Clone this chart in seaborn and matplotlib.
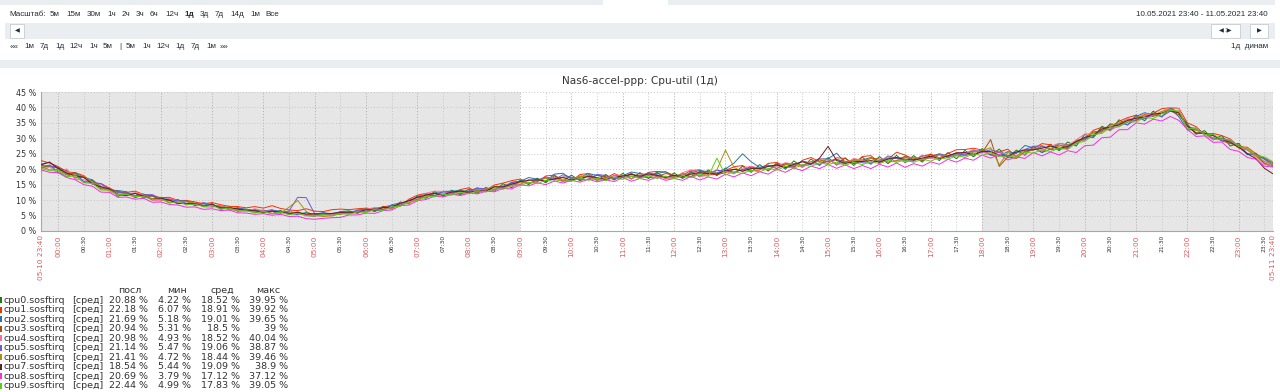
import numpy as np
import pandas as pd
import matplotlib
matplotlib.use('Agg')
import matplotlib.pyplot as plt
from matplotlib.patches import Rectangle
import seaborn as sns

# ---- данные (шаг 10 минут, от 05-10 23:40 до 05-11 23:40) ----
step_min = 10
series_names = ['cpu0.sosftirq', 'cpu1.sosftirq', 'cpu2.sosftirq', 'cpu3.sosftirq', 'cpu4.sosftirq',
                'cpu5.sosftirq', 'cpu6.sosftirq', 'cpu7.sosftirq', 'cpu8.sosftirq', 'cpu9.sosftirq']
series_colors = ['#1A7C11', '#F63100', '#2774A4', '#A54F10', '#FC6EA3',
                 '#6C59DC', '#AC8C14', '#611F27', '#F230E0', '#5CCD18']

cpu0 = [21.6, 22.3, 20.1, 18.2, 18.9, 15.7, 16.4, 13.6, 13.9, 11.2, 12.6, 10.8,
        12.0, 10.0, 10.9, 9.1, 10.2, 8.5, 9.3, 7.9, 8.9, 7.0, 7.9, 6.4,
        7.1, 5.9, 6.8, 5.6, 6.6, 5.3, 6.2, 5.0, 4.8, 5.9, 4.9, 6.3,
        6.5, 5.7, 7.2, 6.3, 8.0, 7.1, 9.4, 8.8, 11.3, 10.6, 12.8, 11.2,
        13.2, 11.7, 13.6, 12.2, 14.1, 12.9, 15.3, 14.0, 16.4, 15.0, 17.1, 15.6,
        17.9, 16.0, 18.1, 16.2, 18.2, 16.3, 18.3, 16.5, 18.7, 16.8, 18.9, 17.0,
        19.1, 16.9, 18.8, 17.0, 19.3, 17.5, 19.8, 17.9, 20.4, 18.5, 21.0, 19.0,
        21.5, 19.4, 22.1, 20.0, 22.7, 20.6, 23.3, 21.2, 23.8, 21.3, 23.7, 21.2,
        23.9, 21.6, 24.1, 21.8, 24.5, 22.1, 24.4, 22.3, 24.9, 22.8, 25.4, 23.4,
        26.1, 24.0, 26.7, 24.6, 26.5, 23.7, 26.2, 24.5, 27.5, 25.4, 28.1, 26.0,
        28.8, 27.5, 31.3, 30.2, 33.9, 32.5, 36.0, 34.3, 37.5, 35.7, 38.8, 36.9,
        39.9, 38.2, 34.6, 31.3, 32.5, 29.5, 30.9, 27.5, 28.4, 24.7, 25.2, 21.7,
        20.9]
cpu1 = [22.8, 22.0, 20.9, 19.1, 18.9, 17.9, 15.6, 15.4, 13.9, 12.6, 12.5, 12.9,
        11.8, 11.5, 10.8, 10.9, 9.9, 9.9, 9.4, 8.8, 9.2, 8.5, 8.0, 7.9,
        7.5, 7.9, 7.4, 8.2, 7.3, 6.8, 6.6, 7.2, 6.4, 6.3, 6.9, 7.1,
        6.9, 7.2, 7.4, 7.1, 7.8, 8.3, 8.2, 10.3, 11.6, 12.2, 11.1, 12.9,
        12.3, 13.4, 14.0, 12.6, 13.2, 14.9, 15.5, 16.3, 16.8, 15.6, 15.9, 17.8,
        18.1, 16.4, 16.2, 18.3, 18.6, 16.9, 17.1, 18.6, 17.3, 18.7, 17.0, 19.0,
        19.3, 19.1, 17.6, 18.1, 19.6, 19.8, 18.2, 18.3, 19.6, 20.8, 21.2, 19.6,
        19.7, 21.9, 22.2, 20.9, 20.6, 22.9, 23.8, 22.4, 21.9, 23.7, 23.5, 21.8,
        24.1, 24.4, 22.1, 23.3, 25.5, 24.6, 23.1, 24.2, 24.9, 23.7, 25.1, 26.3,
        26.4, 26.8, 26.2, 24.7, 25.6, 26.5, 24.1, 25.4, 26.7, 28.3, 27.9, 26.6,
        26.7, 29.4, 29.8, 32.6, 33.6, 33.4, 35.5, 36.7, 37.5, 36.4, 38.1, 39.6,
        39.9, 39.7, 35.0, 33.8, 31.2, 31.6, 30.9, 29.8, 27.3, 27.1, 25.0, 23.6,
        22.2]
cpu2 = [20.2, 21.4, 19.1, 17.6, 18.9, 17.3, 16.6, 14.4, 13.2, 13.1, 12.7, 11.0,
        11.8, 11.3, 10.3, 10.4, 9.8, 9.7, 8.2, 8.9, 8.0, 8.0, 6.8, 7.5,
        6.9, 6.9, 5.8, 6.6, 6.5, 5.8, 5.3, 6.0, 5.2, 5.8, 5.2, 5.9,
        5.6, 6.8, 7.1, 6.5, 6.9, 8.5, 9.1, 9.2, 11.2, 11.9, 11.5, 12.8,
        12.9, 13.1, 12.8, 14.0, 13.1, 14.4, 13.8, 15.8, 16.1, 17.3, 16.8, 16.1,
        18.4, 18.7, 16.8, 17.4, 18.6, 18.0, 17.3, 16.8, 17.9, 19.1, 18.6, 18.0,
        18.6, 19.2, 17.9, 17.3, 18.9, 19.6, 19.2, 18.8, 20.1, 22.0, 25.0, 22.4,
        20.6, 21.4, 20.2, 21.9, 21.7, 21.2, 21.6, 23.3, 23.4, 25.2, 22.0, 23.1,
        23.0, 23.8, 22.2, 24.3, 23.6, 22.7, 22.6, 24.4, 24.2, 25.0, 24.3, 25.2,
        25.2, 26.0, 25.9, 24.6, 24.2, 25.7, 25.1, 27.7, 26.9, 25.4, 26.5, 28.4,
        27.9, 28.2, 30.3, 30.9, 32.2, 34.7, 34.0, 35.2, 37.1, 38.3, 37.6, 38.1,
        39.6, 37.0, 32.7, 32.9, 31.6, 29.8, 30.1, 29.3, 27.6, 24.8, 24.6, 23.4,
        21.7]
cpu3 = [20.6, 20.9, 20.4, 19.6, 17.2, 17.4, 15.6, 13.8, 13.2, 12.9, 12.1, 12.2,
        10.7, 11.4, 10.0, 9.9, 8.8, 9.8, 8.9, 8.3, 8.2, 8.1, 7.5, 7.0,
        6.6, 7.0, 6.0, 6.6, 5.8, 6.3, 5.7, 5.3, 5.4, 5.8, 5.5, 5.4,
        6.2, 6.3, 6.2, 7.4, 7.6, 7.5, 8.9, 9.8, 10.2, 11.8, 12.3, 11.6,
        12.0, 13.0, 12.7, 13.5, 13.6, 13.3, 14.4, 15.4, 15.1, 16.6, 16.1, 17.2,
        16.5, 17.5, 17.4, 16.5, 16.8, 18.1, 17.6, 16.8, 17.3, 18.4, 17.8, 17.2,
        17.6, 18.6, 18.1, 17.4, 17.7, 19.3, 19.0, 18.2, 18.9, 19.9, 19.8, 20.8,
        20.4, 19.7, 21.5, 21.6, 20.8, 22.6, 21.9, 23.0, 22.4, 23.1, 22.6, 21.8,
        22.6, 23.5, 23.3, 22.3, 22.7, 24.2, 23.6, 22.8, 24.1, 24.8, 24.0, 25.3,
        24.4, 25.2, 25.3, 29.6, 20.9, 24.0, 23.5, 25.8, 26.2, 27.5, 26.4, 27.9,
        27.0, 29.1, 29.5, 32.1, 32.4, 34.4, 34.8, 36.2, 35.7, 37.7, 37.1, 38.2,
        38.9, 37.6, 34.3, 31.5, 31.7, 31.2, 29.2, 28.3, 27.8, 26.4, 24.3, 22.0,
        20.9]
cpu4 = [19.4, 20.8, 18.6, 20.1, 16.8, 16.6, 15.5, 15.2, 12.8, 11.7, 11.6, 12.4,
        11.7, 10.0, 9.7, 10.6, 9.8, 8.5, 9.2, 7.8, 7.7, 8.2, 7.0, 6.5,
        6.4, 7.2, 6.6, 5.7, 5.9, 6.4, 5.6, 5.2, 4.9, 5.1, 5.3, 6.1,
        5.8, 5.9, 7.0, 7.6, 7.1, 7.2, 9.1, 9.0, 10.8, 12.2, 12.9, 12.8,
        12.2, 11.5, 12.3, 13.6, 13.2, 13.2, 14.7, 14.5, 15.0, 16.6, 16.5, 17.4,
        17.0, 15.9, 16.4, 17.8, 17.9, 16.5, 16.4, 18.1, 18.0, 16.8, 18.3, 18.7,
        18.1, 16.9, 17.2, 18.9, 19.8, 17.6, 18.0, 19.6, 19.2, 18.6, 20.3, 21.0,
        20.0, 19.9, 21.0, 22.1, 21.7, 20.6, 22.3, 23.4, 23.0, 21.6, 21.8, 23.5,
        22.9, 22.0, 22.9, 24.0, 23.4, 22.3, 22.8, 24.6, 23.5, 23.2, 24.6, 24.3,
        25.2, 26.4, 25.3, 25.3, 25.7, 24.5, 24.3, 24.9, 26.6, 26.0, 27.4, 28.4,
        27.6, 29.5, 31.4, 31.5, 32.8, 32.7, 34.0, 36.3, 36.4, 38.1, 37.4, 38.6,
        40.0, 39.6, 32.8, 33.5, 31.0, 29.6, 29.6, 29.1, 26.8, 26.5, 23.6, 21.6,
        21.0]
cpu5 = [21.2, 21.1, 20.6, 18.7, 18.6, 16.0, 15.6, 15.3, 13.5, 12.4, 12.3, 11.5,
        11.6, 11.8, 10.4, 10.1, 9.8, 9.0, 8.4, 9.2, 8.4, 7.4, 7.3, 7.5,
        7.0, 6.4, 6.4, 6.9, 6.0, 6.5, 10.9, 10.8, 5.5, 5.9, 5.6, 6.2,
        5.8, 6.7, 6.4, 7.2, 6.9, 8.3, 8.4, 9.9, 11.0, 10.8, 12.1, 12.6,
        12.6, 12.1, 13.0, 13.8, 13.7, 13.5, 14.4, 15.6, 16.1, 15.3, 16.4, 17.5,
        16.6, 18.2, 17.3, 16.6, 16.7, 18.3, 18.0, 16.9, 17.4, 17.8, 17.3, 18.9,
        18.2, 17.6, 17.4, 18.6, 17.6, 18.7, 18.7, 19.6, 19.6, 19.0, 19.8, 20.6,
        20.2, 21.1, 21.3, 20.4, 21.2, 22.7, 21.8, 21.6, 22.7, 23.2, 22.1, 22.8,
        22.1, 22.0, 22.8, 23.6, 23.5, 23.9, 22.9, 23.5, 23.7, 24.9, 23.7, 24.9,
        24.7, 25.9, 25.5, 26.3, 25.5, 24.1, 25.3, 26.4, 27.4, 27.6, 26.4, 26.5,
        27.0, 28.6, 29.8, 30.5, 32.8, 32.9, 34.9, 34.4, 36.1, 36.4, 37.6, 37.1,
        38.8, 38.5, 33.8, 33.1, 31.6, 30.9, 29.2, 29.2, 27.5, 25.1, 24.6, 23.2,
        21.1]
cpu6 = [21.0, 19.8, 19.9, 18.2, 18.4, 17.4, 15.9, 13.9, 13.4, 12.0, 11.9, 11.0,
        11.4, 10.5, 10.6, 9.3, 9.6, 9.5, 8.9, 8.0, 8.3, 7.7, 7.5, 6.6,
        6.6, 6.1, 6.4, 5.6, 5.8, 7.7, 9.9, 6.3, 5.0, 4.7, 4.9, 5.6,
        5.7, 6.4, 6.3, 6.9, 7.5, 7.4, 8.9, 9.2, 10.1, 11.3, 12.2, 12.0,
        12.0, 12.9, 12.3, 13.2, 13.6, 14.4, 14.0, 14.9, 15.8, 15.4, 16.2, 17.1,
        17.4, 16.3, 16.6, 17.8, 17.4, 16.5, 17.1, 17.9, 18.1, 17.0, 18.0, 18.2,
        17.9, 17.2, 17.6, 18.5, 18.4, 17.9, 18.6, 19.8, 26.2, 20.6, 19.2, 20.3,
        20.1, 20.9, 20.3, 21.4, 21.8, 21.3, 22.5, 22.4, 23.2, 21.7, 22.1, 23.0,
        22.6, 23.5, 22.5, 23.4, 22.6, 23.6, 23.8, 23.1, 23.8, 24.6, 24.3, 24.6,
        24.3, 25.6, 25.9, 27.0, 21.4, 25.4, 24.2, 26.3, 26.4, 27.2, 26.6, 27.5,
        27.8, 28.4, 30.3, 31.8, 32.0, 34.2, 34.9, 35.6, 36.6, 37.5, 37.4, 38.7,
        39.4, 38.4, 33.0, 32.6, 31.6, 30.2, 29.9, 28.8, 26.9, 26.2, 24.3, 22.5,
        21.4]
cpu7 = [21.4, 22.3, 20.3, 18.7, 17.9, 17.4, 15.2, 14.3, 13.6, 11.8, 11.5, 12.2,
        11.3, 10.2, 10.6, 10.0, 9.0, 8.8, 8.9, 8.0, 8.6, 7.5, 7.5, 7.2,
        6.6, 6.6, 5.9, 6.4, 6.1, 5.7, 6.0, 5.5, 5.6, 5.4, 5.7, 6.0,
        6.1, 6.0, 6.9, 6.7, 7.6, 7.7, 9.0, 9.8, 10.9, 11.6, 12.2, 11.7,
        12.6, 12.9, 12.5, 13.0, 12.9, 14.3, 14.3, 15.1, 16.0, 16.4, 16.6, 16.2,
        16.9, 17.3, 16.5, 17.0, 17.7, 17.3, 16.6, 17.4, 17.8, 18.3, 17.7, 18.5,
        18.0, 17.4, 18.0, 17.6, 18.5, 18.9, 18.6, 18.5, 19.5, 20.0, 19.4, 20.2,
        20.2, 20.9, 21.4, 20.5, 21.6, 22.4, 21.6, 23.6, 27.4, 22.8, 21.9, 22.4,
        22.5, 22.8, 22.3, 23.3, 23.8, 23.1, 23.0, 23.6, 24.2, 23.4, 24.3, 25.3,
        25.4, 24.6, 25.8, 25.7, 24.6, 24.3, 25.6, 26.2, 26.3, 26.8, 27.5, 26.7,
        27.4, 28.9, 30.3, 31.0, 33.1, 33.6, 34.4, 35.8, 36.5, 36.9, 37.9, 38.1,
        38.9, 38.2, 33.9, 31.8, 31.6, 30.9, 29.7, 28.7, 27.1, 25.0, 23.4, 20.3,
        18.5]
cpu8 = [19.8, 19.0, 18.9, 17.3, 16.6, 15.0, 14.5, 12.6, 12.5, 10.9, 11.0, 10.3,
        10.6, 9.3, 9.4, 8.6, 8.4, 7.7, 7.8, 7.0, 7.2, 6.6, 6.8, 5.9,
        5.8, 5.4, 5.6, 5.1, 5.4, 4.7, 4.8, 4.0, 3.8, 4.1, 4.3, 4.4,
        5.2, 5.2, 5.8, 5.7, 6.6, 6.8, 8.2, 8.4, 9.8, 10.2, 11.3, 11.0,
        11.9, 11.5, 12.3, 12.0, 12.9, 12.7, 13.8, 13.6, 15.0, 14.6, 15.6, 15.0,
        16.2, 15.5, 16.4, 15.8, 16.8, 15.9, 16.6, 16.0, 17.3, 16.1, 17.0, 16.4,
        17.5, 16.4, 17.0, 16.4, 17.7, 16.5, 17.5, 16.8, 18.4, 17.5, 18.8, 17.9,
        19.2, 18.4, 20.0, 19.0, 20.4, 19.5, 21.0, 20.2, 21.5, 20.3, 21.4, 20.2,
        21.2, 20.2, 21.6, 20.7, 22.0, 20.6, 21.8, 21.0, 22.4, 21.6, 23.2, 22.3,
        23.6, 22.9, 24.6, 23.6, 24.8, 23.0, 24.0, 23.5, 25.4, 24.3, 25.6, 24.6,
        26.0, 25.4, 27.6, 27.8, 30.2, 30.4, 32.8, 32.8, 35.0, 34.6, 36.2, 35.6,
        37.1, 35.8, 32.9, 30.6, 30.8, 28.7, 28.8, 26.4, 25.8, 23.8, 23.2, 21.0,
        20.7]
cpu9 = [20.4, 19.5, 19.6, 17.5, 17.9, 15.6, 15.4, 13.3, 13.2, 11.8, 11.9, 11.1,
        11.2, 10.2, 10.3, 9.1, 9.5, 8.5, 8.7, 7.9, 8.3, 7.1, 7.4, 6.5,
        6.6, 5.9, 6.2, 5.6, 6.1, 5.3, 5.7, 4.9, 5.0, 5.3, 5.0, 5.6,
        5.4, 6.2, 6.0, 6.9, 6.7, 7.8, 8.0, 9.4, 9.8, 11.1, 11.1, 11.9,
        11.6, 12.5, 12.0, 13.0, 12.6, 13.7, 13.5, 14.8, 14.6, 15.8, 15.3, 16.5,
        16.0, 16.8, 16.1, 17.1, 16.4, 17.1, 16.3, 17.4, 16.7, 17.7, 17.0, 17.8,
        17.0, 17.8, 16.9, 17.9, 17.3, 18.3, 17.7, 23.6, 18.2, 19.2, 18.6, 19.7,
        19.1, 20.3, 19.7, 20.9, 20.3, 21.5, 20.9, 22.1, 21.5, 22.3, 21.3, 22.2,
        21.5, 22.5, 21.8, 22.9, 22.2, 23.1, 22.2, 23.3, 22.6, 23.8, 23.2, 24.4,
        23.8, 25.0, 24.4, 25.4, 24.2, 24.3, 23.9, 25.5, 25.2, 26.4, 25.7, 26.9,
        26.4, 28.5, 29.0, 31.2, 31.6, 33.6, 33.7, 35.4, 35.3, 36.8, 36.4, 38.0,
        39.0, 38.9, 33.2, 33.1, 31.3, 31.3, 29.6, 29.5, 27.4, 26.8, 24.4, 24.0,
        22.4]
series_values = [cpu0, cpu1, cpu2, cpu3, cpu4, cpu5, cpu6, cpu7, cpu8, cpu9]

# таблица легенды
stat_last = [20.88, 22.18, 21.69, 20.94, 20.98, 21.14, 21.41, 18.54, 20.69, 22.44]
stat_min = [4.22, 6.07, 5.18, 5.31, 4.93, 5.47, 4.72, 5.44, 3.79, 4.99]
stat_avg = [18.52, 18.91, 19.01, 18.5, 18.52, 19.06, 18.44, 19.09, 17.12, 17.83]
stat_max = [39.95, 39.92, 39.65, 39, 40.04, 38.87, 39.46, 38.9, 37.12, 39.05]
stat_headers = ['посл', 'мин', 'сред', 'макс']

# подписи оси времени
hour_labels = [f'{h:02d}:00' for h in range(24)]
half_labels = [f'{h:02d}:30' for h in range(24)]
edge_labels = ['05-10 23:40', '05-11 23:40']
y_ticks = [0, 5, 10, 15, 20, 25, 30, 35, 40, 45]

title = 'Nas6-accel-ppp: Cpu-util (1д)'
zoom_links = ['5м', '15м', '30м', '1ч', '2ч', '3ч', '6ч', '12ч', '1д', '3д', '7д', '14д', '1м', 'Все']
nav_links = ['««', '1м', '7д', '1д', '12ч', '1ч', '5м', '|', '5м', '1ч', '12ч', '1д', '7д', '1м', '»»']
period_text = '10.05.2021 23:40 - 11.05.2021 23:40'

# ---- рисунок ----
sns.set_style('white')
plt.rcParams['font.family'] = ['DejaVu Sans']

W, H = 1280, 392
fig = plt.figure(figsize=(W / 100, H / 100), dpi=100)
fig.patch.set_facecolor('white')


def fx(x):
    return x / W


def fy(y):
    return 1 - y / H


def box(x0, y0, x1, y1, fc, ec='none', lw=0.0):
    fig.patches.append(Rectangle((fx(x0), fy(y1)), fx(x1) - fx(x0), fy(y0) - fy(y1),
                                 transform=fig.transFigure, facecolor=fc, edgecolor=ec, lw=lw))


ui = dict(family=['Liberation Sans', 'DejaVu Sans'], fontsize=5.8, color='#1f2c33', va='center')

# верхняя панель
box(0, 0, 603, 5, '#ebeef0')
box(668, 0, 1275, 5, '#ebeef0')
fig.text(fx(9), fy(14), 'Масштаб:', **ui)
zoom_x = [50, 66, 87, 107, 122, 136, 150, 165, 184.5, 200, 215, 230, 250, 265]
for lx, lab in zip(zoom_x, zoom_links):
    fig.text(fx(lx), fy(14), lab, fontweight='bold' if lab == '1д' else 'normal', **ui)
fig.text(fx(1268), fy(14), period_text, ha='right', **ui)

box(5, 23, 1275, 39, '#ebeef0')
box(10, 24, 24, 38, 'white', '#c5cdd3', 0.6)
fig.text(fx(17), fy(31), '◀', ha='center', va='center', fontsize=4.5, color='#1f2c33')
box(1211, 24, 1240, 38, 'white', '#c5cdd3', 0.6)
fig.text(fx(1225.5), fy(31), '◀∷▶', ha='center', va='center', fontsize=4.5, color='#1f2c33')
box(1250, 24, 1268, 38, 'white', '#c5cdd3', 0.6)
fig.text(fx(1259), fy(31), '▶', ha='center', va='center', fontsize=4.5, color='#1f2c33')

nav_x = [10, 24.5, 40, 55, 69, 89, 103, 119, 126, 142, 156, 175.5, 191, 206, 220]
for lx, lab in zip(nav_x, nav_links):
    fig.text(fx(lx), fy(47), lab, **ui)
fig.text(fx(1268), fy(47), '1д  динам', ha='right', **ui)

box(0, 60, 1280, 68, '#ebeef0')

fig.text(fx(640), fy(81), title, ha='center', va='center', fontsize=7.6, color='#333333')

# график
ax = fig.add_axes([fx(41), fy(231), fx(1273) - fx(41), fy(92) - fy(231)])
ax.set_facecolor('white')
ax.axvspan(0, 560, color='#e6e6e6', lw=0, zorder=0)
ax.axvspan(1100, 1440, color='#e6e6e6', lw=0, zorder=0)

hour_pos = [20 + 60 * h for h in range(24)]
half_pos = [50 + 60 * h for h in range(24)]
for m in half_pos:
    ax.axvline(m, color='#c4c4c4', ls=(0, (1, 2)), lw=0.7, zorder=1)
for m in hour_pos:
    ax.axvline(m, color='#a9a9a9', ls=(0, (1, 2)), lw=0.7, zorder=1)
for v in y_ticks[1:]:
    ax.axhline(v, color='#c4c4c4', ls=(0, (1, 2)), lw=0.7, zorder=1)

minutes = np.arange(len(cpu0)) * step_min
df = pd.concat([pd.DataFrame({'minute': minutes, 'value': vals, 'cpu': name})
                for name, vals in zip(series_names, series_values)], ignore_index=True)
sns.lineplot(data=df, x='minute', y='value', hue='cpu', hue_order=series_names,
             palette=dict(zip(series_names, series_colors)), lw=0.7, legend=False, ax=ax, zorder=3)

ax.set_xlim(0, 1440)
ax.set_ylim(0, 45)
ax.set_xlabel('')
ax.set_ylabel('')
for s in ['top', 'right']:
    ax.spines[s].set_visible(False)
ax.spines['left'].set_color('#a0a8b0')
ax.spines['bottom'].set_color('#a0a8b0')
ax.spines['left'].set_linewidth(0.8)
ax.spines['bottom'].set_linewidth(0.8)

ax.set_yticks(y_ticks)
ax.set_yticklabels([f'{v} %' for v in y_ticks])
ax.tick_params(axis='y', length=0, labelsize=5.8, labelcolor='#333333', pad=3.5)

ticks = [0] + hour_pos + half_pos + [1440]
labels = [edge_labels[0]] + hour_labels + half_labels + [edge_labels[1]]
kinds = ['edge'] + ['hour'] * 24 + ['half'] * 24 + ['edge']
ax.set_xticks(ticks)
ax.set_xticklabels(labels, rotation=90)
ax.tick_params(axis='x', length=0, pad=3)
for lab, kind in zip(ax.get_xticklabels(), kinds):
    if kind == 'half':
        lab.set_color('#333333')
        lab.set_fontsize(4.3)
    else:
        lab.set_color('#e05a5a')
        lab.set_fontsize(5.3)

# легенда-таблица
leg = dict(fontsize=6.8, color='#333333', va='center')
for hx, htxt in zip([130, 177, 222, 268], stat_headers):
    fig.text(fx(hx), fy(290.5), htxt, ha='center', **leg)
for i, name in enumerate(series_names):
    yy = 300.3 + 9.49 * i
    box(-4, yy - 3, 1.5, yy + 3, series_colors[i])
    fig.text(fx(4), fy(yy), name, ha='left', **leg)
    fig.text(fx(72), fy(yy), '[сред]', ha='left', **leg)
    for vx, v in zip([148, 191, 240, 288], [stat_last[i], stat_min[i], stat_avg[i], stat_max[i]]):
        fig.text(fx(vx), fy(yy), f'{v:g} %', ha='right', **leg)

fig.savefig('out.png', dpi=100)
